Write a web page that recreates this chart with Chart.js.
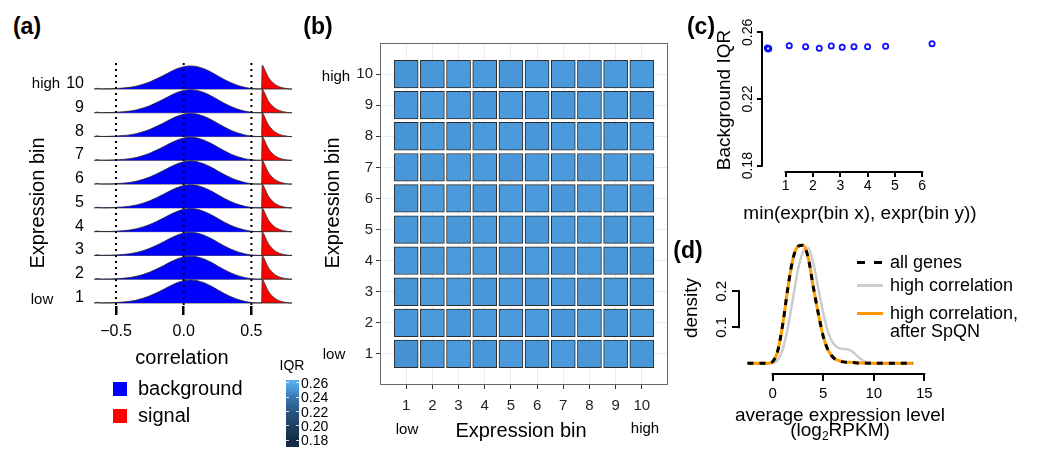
<!DOCTYPE html>
<html>
<head>
<meta charset="utf-8">
<script src="https://cdn.jsdelivr.net/npm/chart.js@4/dist/chart.umd.min.js"></script>
<style>
body { margin: 0; background: #fff; font-family: 'Liberation Sans', Arial, Helvetica, sans-serif; color: #000; }
#page { position: relative; width: 1055px; height: 449px; overflow: hidden; }
.box { position: absolute; }
.t { position: absolute; white-space: nowrap; line-height: 1; transform: translate(-50%, -50%); }
.tl { position: absolute; white-space: nowrap; line-height: 1; transform: translate(0, -50%); }
.rot { transform: translate(-50%, -50%) rotate(-90deg); }
.pl { font-weight: bold; font-size: 23px; }
.sq { position: absolute; width: 14px; height: 14px; }
.smp { position: absolute; height: 3px; }
</style>
</head>
<body>
<div id="page">
  <div class="box" style="left:0;top:40px"><canvas id="ridges" width="300" height="320"></canvas></div>
  <div class="box" style="left:300px;top:30px"><canvas id="heat" width="380" height="420"></canvas></div>
  <div class="box" style="left:690px;top:0"><canvas id="iqr" width="365" height="230"></canvas></div>
  <div class="box" style="left:660px;top:230px"><canvas id="dens" width="395" height="219"></canvas></div>

  <!-- panel a text -->
  <div class="t pl" style="left:27px;top:26px">(a)</div>
  <div class="t rot" style="left:37px;top:203px;font-size:20px">Expression bin</div>
  <div class="t" style="left:46px;top:82px;font-size:15px">high</div>
  <div class="t" style="left:42px;top:298px;font-size:15px">low</div>
  <div class="t" style="left:182px;top:357px;font-size:20px">correlation</div>
  <div class="sq" style="left:113px;top:382px;background:#0000ff"></div>
  <div class="tl" style="left:138px;top:388px;font-size:20px">background</div>
  <div class="sq" style="left:113px;top:409px;background:#ff0000"></div>
  <div class="tl" style="left:138px;top:415px;font-size:20px">signal</div>

  <!-- panel b text -->
  <div class="t pl" style="left:318px;top:26px">(b)</div>
  <div class="t rot" style="left:332px;top:203px;font-size:20px">Expression bin</div>
  <div class="t" style="left:336px;top:75px;font-size:15px">high</div>
  <div class="t" style="left:334px;top:353px;font-size:15px">low</div>
  <div class="t" style="left:407px;top:428px;font-size:15px">low</div>
  <div class="t" style="left:521px;top:430px;font-size:20px">Expression bin</div>
  <div class="t" style="left:645px;top:427px;font-size:15px">high</div>
  <div class="t" style="left:292px;top:365px;font-size:14px">IQR</div>
  <div id="cbar" class="box" style="left:286px;top:380px;width:13px;height:67px"></div>

  <!-- panel c text -->
  <div class="t pl" style="left:701px;top:26px">(c)</div>
  <div class="t rot" style="left:723px;top:100px;font-size:19px">Background IQR</div>
  <div class="t" style="left:860px;top:212px;font-size:19px">min(expr(bin x), expr(bin y))</div>

  <!-- panel d text -->
  <div class="t pl" style="left:688px;top:250px">(d)</div>
  <div class="t rot" style="left:690px;top:308px;font-size:19px">density</div>
  <div class="t" style="left:840px;top:414px;font-size:19px">average expression level</div>
  <div class="t" style="left:840px;top:431px;font-size:19px">(log<sub style="font-size:12px">2</sub>RPKM)</div>
  <div class="smp" style="left:857px;top:261px;width:26px;background:repeating-linear-gradient(90deg,#000 0 8px,transparent 8px 17px)"></div>
  <div class="tl" style="left:890px;top:262px;font-size:18px">all genes</div>
  <div class="smp" style="left:857px;top:284px;width:26px;background:#cccccc"></div>
  <div class="tl" style="left:890px;top:285px;font-size:18px">high correlation</div>
  <div class="smp" style="left:857px;top:312px;width:26px;background:#ff9a00"></div>
  <div class="tl" style="left:890px;top:313px;font-size:18px">high correlation,</div>
  <div class="tl" style="left:890px;top:331px;font-size:18px">after SpQN</div>
</div>

<script>
// ---- data ----

// (a) correlation densities, one shape per component (height in row units)
const bins = [1, 2, 3, 4, 5, 6, 7, 8, 9, 10];
const corrX = [-0.66, -0.6, -0.55, -0.5, -0.45, -0.4, -0.35, -0.3, -0.25, -0.2, -0.15, -0.1, -0.05,
               0, 0.05, 0.1, 0.15, 0.2, 0.25, 0.3, 0.35, 0.4, 0.45, 0.5, 0.55, 0.6, 0.7, 0.8];
const backgroundDens = [0, 0.005, 0.01, 0.02, 0.04, 0.07, 0.12, 0.2, 0.3, 0.43, 0.57, 0.72, 0.85,
                        0.94, 0.97, 0.94, 0.85, 0.72, 0.56, 0.4, 0.26, 0.15, 0.07, 0.02, 0.005, 0, 0, 0];
const signalX = [-0.66, -0.64, -0.62, -0.6, 0.575, 0.58, 0.6, 0.62, 0.64, 0.66, 0.68, 0.7, 0.72, 0.74, 0.76, 0.78, 0.8];
const signalDens = [0, 0.03, 0.01, 0, 0, 1.0, 0.8, 0.55, 0.38, 0.26, 0.17, 0.11, 0.07, 0.04, 0.02, 0.005, 0];
const cutoffs = [-0.5, 0, 0.5];
const corrTicks = [-0.5, 0, 0.5];

// (b) IQR per pair of expression bins (rows = y bin 1..10, cols = x bin 1..10)
const iqrMatrix = [
  [0.249, 0.251, 0.252, 0.251, 0.252, 0.251, 0.252, 0.251, 0.252, 0.251],
  [0.251, 0.252, 0.251, 0.252, 0.252, 0.252, 0.251, 0.252, 0.251, 0.252],
  [0.250, 0.252, 0.252, 0.251, 0.252, 0.251, 0.252, 0.251, 0.252, 0.251],
  [0.251, 0.251, 0.252, 0.252, 0.251, 0.252, 0.251, 0.252, 0.251, 0.250],
  [0.251, 0.252, 0.251, 0.252, 0.252, 0.251, 0.252, 0.252, 0.251, 0.252],
  [0.250, 0.252, 0.252, 0.251, 0.252, 0.252, 0.251, 0.252, 0.252, 0.251],
  [0.251, 0.251, 0.252, 0.252, 0.251, 0.252, 0.252, 0.251, 0.252, 0.252],
  [0.250, 0.252, 0.251, 0.252, 0.252, 0.251, 0.252, 0.252, 0.251, 0.252],
  [0.251, 0.252, 0.252, 0.251, 0.252, 0.252, 0.251, 0.252, 0.252, 0.251],
  [0.250, 0.251, 0.252, 0.252, 0.251, 0.252, 0.252, 0.251, 0.252, 0.252]
];
const iqrTicks = [0.18, 0.20, 0.22, 0.24, 0.26];

// (c) background IQR vs min expression
const minExpr = [0.33, 0.36, 0.38, 1.13, 1.73, 2.23, 2.67, 3.07, 3.5, 4.0, 4.66, 6.36];
const bgIQR = [0.2506, 0.2500, 0.2503, 0.2520, 0.2514, 0.2504, 0.2518, 0.2510, 0.2514, 0.2514, 0.2516, 0.2532];
const cTicksX = [1, 2, 3, 4, 5, 6];
const cTicksY = [0.18, 0.22, 0.26];

// (d) expression densities
const exprX = [-2.5, -1, -0.5, 0, 0.5, 1, 1.5, 2, 2.5, 3, 3.5, 4, 4.5, 5, 5.5, 6, 6.5, 7, 7.5, 8, 8.5, 9, 9.5, 10, 11, 12, 13, 13.9];
const allGenes = [0, 0, 0, 0.005, 0.035, 0.11, 0.21, 0.29, 0.325, 0.328, 0.295, 0.215, 0.14, 0.075, 0.035, 0.016, 0.008, 0.004, 0.003, 0.002, 0.001, 0.001, 0, 0, 0, 0, 0, 0];
const highCorr = [0, 0, 0, 0, 0.01, 0.04, 0.1, 0.18, 0.26, 0.31, 0.32, 0.28, 0.21, 0.14, 0.085, 0.055, 0.043, 0.04, 0.038, 0.03, 0.017, 0.007, 0.002, 0, 0, 0, 0, 0];
const highCorrSpqn = [0, 0, 0, 0.005, 0.035, 0.11, 0.21, 0.29, 0.325, 0.328, 0.295, 0.215, 0.14, 0.075, 0.035, 0.016, 0.008, 0.004, 0.003, 0.002, 0.001, 0.001, 0, 0, 0, 0, 0, 0];
const dTicksX = [0, 5, 10, 15];
const dTicksY = [0.1, 0.2];

// ---- helpers ----
Chart.defaults.font.family = "'Liberation Sans', Arial, Helvetica, sans-serif";
Chart.defaults.color = '#000';
Chart.defaults.plugins.legend.display = false;
Chart.defaults.plugins.tooltip.enabled = false;

// blue gradient for IQR (dark navy -> light blue)
const iqrStops = [[0.18, [19, 43, 67]], [0.22, [40, 86, 128]], [0.24, [58, 120, 178]], [0.26, [86, 177, 247]]];
function iqrColor(v) {
    v = Math.max(0.18, Math.min(0.26, v));
    let i = 0;
    while (i < iqrStops.length - 2 && v > iqrStops[i + 1][0]) i++;
    let a = iqrStops[i], b = iqrStops[i + 1];
    let u = (v - a[0]) / (b[0] - a[0]);
    let c = a[1].map((x, k) => Math.round(x + u * (b[1][k] - x)));
    return 'rgb(' + c.join(',') + ')';
}

function fixedSize(w, h) {
    return (s) => {
        if (w !== undefined) s.width = w;
        if (h !== undefined) s.height = h;
    };
}

// axis segments drawn only across the tick range (base R style) + rotated y labels
const rangeAxes = {
    id: 'rangeAxes',
    afterDraw(chart, args, opts) {
        const ctx = chart.ctx, a = chart.chartArea;
        ctx.save();
        ctx.strokeStyle = '#000';
        ctx.lineWidth = 2;
        if (opts.x) {
            const sx = chart.scales.x;
            ctx.beginPath();
            ctx.moveTo(sx.getPixelForValue(opts.x[0]) - 1, a.bottom);
            ctx.lineTo(sx.getPixelForValue(opts.x[1]) + 1, a.bottom);
            ctx.stroke();
        }
        if (opts.y) {
            const sy = chart.scales.y;
            ctx.beginPath();
            ctx.moveTo(a.left, sy.getPixelForValue(opts.y[0]) + 1);
            ctx.lineTo(a.left, sy.getPixelForValue(opts.y[1]) - 1);
            ctx.stroke();
        }
        if (opts.yLabels) {
            const sy = chart.scales.y;
            ctx.fillStyle = '#000';
            ctx.font = opts.yLabels.size + "px 'Liberation Sans', Arial, sans-serif";
            ctx.textAlign = 'center';
            ctx.textBaseline = 'middle';
            sy.ticks.forEach((t) => {
                ctx.save();
                ctx.translate(a.left - opts.yLabels.offset, sy.getPixelForValue(t.value));
                ctx.rotate(-Math.PI / 2);
                ctx.fillText(opts.yLabels.fmt(t.value), 0, 0);
                ctx.restore();
            });
        }
        ctx.restore();
    }
};

const panelFrame = {
    id: 'panelFrame',
    afterDatasetsDraw(chart) {
        const ctx = chart.ctx, a = chart.chartArea;
        ctx.save();
        ctx.strokeStyle = '#666';
        ctx.lineWidth = 1;
        ctx.strokeRect(a.left + 0.5, a.top + 0.5, a.right - a.left - 1, a.bottom - a.top - 1);
        ctx.restore();
    }
};

// ---- (a) ridgeline densities ----
let ridgeSets = [];
bins.forEach((b) => {
    ridgeSets.push({
        data: corrX.map((x, i) => ({ x: x, y: b + backgroundDens[i] })),
        fill: { value: b },
        backgroundColor: '#0000ff',
        borderColor: '#222',
        borderWidth: 0.8,
        pointRadius: 0,
        cubicInterpolationMode: 'monotone',
        order: b
    });
    ridgeSets.push({
        data: signalX.map((x, i) => ({ x: x, y: b + signalDens[i] })),
        fill: { value: b },
        backgroundColor: '#ff0000',
        borderColor: '#333',
        borderWidth: 0.8,
        pointRadius: 0,
        cubicInterpolationMode: 'monotone',
        order: b
    });
});
cutoffs.forEach((c) => {
    ridgeSets.push({
        data: [{ x: c, y: 0.92 }, { x: c, y: 11.09 }],
        borderColor: '#000',
        borderWidth: 2,
        borderDash: [2, 4],
        pointRadius: 0,
        fill: false,
        order: 0
    });
});

new Chart(document.getElementById('ridges'), {
    type: 'line',
    data: { datasets: ridgeSets },
    options: {
        responsive: false,
        animation: false,
        devicePixelRatio: 1,
        layout: { padding: { top: 20, right: 8, left: 0, bottom: 0 } },
        scales: {
            x: {
                type: 'linear',
                min: -0.67,
                max: 0.8,
                afterBuildTicks: (s) => { s.ticks = corrTicks.map((v) => ({ value: v })); },
                afterFit: fixedSize(undefined, 54),
                border: { display: false },
                grid: { drawOnChartArea: false, drawTicks: true, tickLength: 9, color: '#000', lineWidth: 2.5 },
                ticks: {
                    font: { size: 16 },
                    padding: 7,
                    maxRotation: 0,
                    callback: (v) => (v < 0 ? '\u2212' : '') + Math.abs(v).toFixed(1)
                }
            },
            y: {
                type: 'linear',
                min: 0.874,
                max: 11.22,
                afterBuildTicks: (s) => { s.ticks = bins.map((b) => ({ value: b + 0.23 })); },
                afterFit: fixedSize(93, undefined),
                border: { display: false },
                grid: { display: false },
                ticks: { font: { size: 16 }, padding: 1, callback: (v, i) => String(bins[i]) }
            }
        }
    }
});

// ---- (b) heatmap of IQR ----
let tileSets = bins.map((r) => ({
    type: 'bar',
    data: bins.map((c) => ({ x: c, y: [r - 0.445, r + 0.445] })),
    backgroundColor: bins.map((c) => iqrColor(iqrMatrix[r - 1][c - 1])),
    borderColor: '#2b2b2b',
    borderWidth: 1,
    borderSkipped: false,
    grouped: false,
    barThickness: 24
}));

new Chart(document.getElementById('heat'), {
    type: 'bar',
    data: { datasets: tileSets },
    options: {
        responsive: false,
        animation: false,
        devicePixelRatio: 1,
        layout: { padding: { top: 13, right: 12, left: 0, bottom: 0 } },
        scales: {
            x: {
                type: 'linear',
                min: 0,
                max: 11,
                offset: false,
                afterBuildTicks: (s) => { s.ticks = bins.map((v) => ({ value: v })); },
                afterFit: fixedSize(undefined, 65),
                border: { display: false },
                grid: { offset: false, color: '#ebebeb', tickColor: '#333', tickLength: 4, lineWidth: 1 },
                ticks: { font: { size: 15 }, color: '#222', padding: 8, maxRotation: 0 }
            },
            y: {
                type: 'linear',
                min: 0,
                max: 11,
                afterBuildTicks: (s) => { s.ticks = bins.map((v) => ({ value: v })); },
                afterFit: fixedSize(80, undefined),
                border: { display: false },
                grid: { color: '#ebebeb', tickColor: '#333', tickLength: 4, lineWidth: 1 },
                ticks: { font: { size: 15 }, color: '#222', padding: 3 }
            }
        }
    },
    plugins: [panelFrame]
});

// colour bar legend for IQR
(function () {
    const bar = document.getElementById('cbar');
    const top = 0.2642, bottom = 0.1702, h = 67;
    let stops = [];
    for (let k = 0; k <= 8; k++) {
        const v = top - (top - bottom) * k / 8;
        stops.push(iqrColor(v) + ' ' + (k * 12.5) + '%');
    }
    bar.style.background = 'linear-gradient(180deg,' + stops.join(',') + ')';
    const page = document.getElementById('page');
    iqrTicks.forEach((v) => {
        const y = (top - v) / (top - bottom) * h;
        ['0px', '10px'].forEach((lx) => {
            const m = document.createElement('div');
            m.style.cssText = 'position:absolute;left:' + lx + ';top:' + (y - 0.5) + 'px;width:3px;height:1px;background:rgba(255,255,255,0.8)';
            bar.appendChild(m);
        });
        const lab = document.createElement('div');
        lab.className = 'tl';
        lab.style.cssText = 'left:301px;top:' + (380 + y) + 'px;font-size:14px';
        lab.textContent = v.toFixed(2);
        page.appendChild(lab);
    });
})();

// ---- (c) background IQR scatter ----
new Chart(document.getElementById('iqr'), {
    type: 'scatter',
    data: {
        datasets: [{
            data: minExpr.map((x, i) => ({ x: x, y: bgIQR[i] })),
            pointStyle: 'circle',
            pointRadius: 2.6,
            pointBorderWidth: 1.8,
            borderColor: '#1010ff',
            backgroundColor: 'rgba(0,0,0,0)'
        }]
    },
    options: {
        responsive: false,
        animation: false,
        devicePixelRatio: 1,
        layout: { padding: { top: 28, right: 105, left: 0, bottom: 0 } },
        scales: {
            x: {
                type: 'linear',
                min: 0.132,
                max: 7.018,
                afterBuildTicks: (s) => { s.ticks = cTicksX.map((v) => ({ value: v })); },
                afterFit: fixedSize(undefined, 58),
                border: { display: false },
                grid: { drawOnChartArea: false, drawTicks: true, tickLength: 5, color: '#000', lineWidth: 2 },
                ticks: { font: { size: 14 }, padding: 1, maxRotation: 0 }
            },
            y: {
                type: 'linear',
                min: 0.17622,
                max: 0.26258,
                afterBuildTicks: (s) => { s.ticks = cTicksY.map((v) => ({ value: v })); },
                afterFit: fixedSize(72, undefined),
                border: { display: false },
                grid: { drawOnChartArea: false, drawTicks: true, tickLength: 5, color: '#000', lineWidth: 2 },
                ticks: { display: false }
            }
        },
        plugins: {
            rangeAxes: { x: [1, 6], y: [0.18, 0.26], yLabels: { offset: 14, size: 14, fmt: (v) => v.toFixed(2) } }
        }
    },
    plugins: [rangeAxes]
});

// ---- (d) expression densities ----
new Chart(document.getElementById('dens'), {
    type: 'line',
    data: {
        datasets: [
            {
                data: exprX.map((x, i) => ({ x: x, y: allGenes[i] })),
                borderColor: '#000',
                borderWidth: 3,
                borderDash: [6, 6],
                pointRadius: 0,
                cubicInterpolationMode: 'monotone',
                order: 1
            },
            {
                data: exprX.map((x, i) => ({ x: x, y: highCorrSpqn[i] })),
                borderColor: '#ff9a00',
                borderWidth: 3,
                pointRadius: 0,
                cubicInterpolationMode: 'monotone',
                order: 2
            },
            {
                data: exprX.map((x, i) => ({ x: x, y: highCorr[i] })),
                borderColor: '#cccccc',
                borderWidth: 2.5,
                pointRadius: 0,
                cubicInterpolationMode: 'monotone',
                order: 3
            }
        ]
    },
    options: {
        responsive: false,
        animation: false,
        devicePixelRatio: 1,
        layout: { padding: { top: 10, right: 125, left: 0, bottom: 0 } },
        scales: {
            x: {
                type: 'linear',
                min: -3.34,
                max: 15.57,
                afterBuildTicks: (s) => { s.ticks = dTicksX.map((v) => ({ value: v })); },
                afterFit: fixedSize(undefined, 75),
                border: { display: false },
                grid: { drawOnChartArea: false, drawTicks: true, tickLength: 7, color: '#000', lineWidth: 2 },
                ticks: { font: { size: 15 }, padding: 4, maxRotation: 0 }
            },
            y: {
                type: 'linear',
                min: -0.0297,
                max: 0.3425,
                afterBuildTicks: (s) => { s.ticks = dTicksY.map((v) => ({ value: v })); },
                afterFit: fixedSize(79, undefined),
                border: { display: false },
                grid: { drawOnChartArea: false, drawTicks: true, tickLength: 7, color: '#000', lineWidth: 2 },
                ticks: { display: false }
            }
        },
        plugins: {
            rangeAxes: { x: [0, 15], y: [0.1, 0.2], yLabels: { offset: 17, size: 15, fmt: (v) => v.toFixed(1) } }
        }
    },
    plugins: [rangeAxes]
});
</script>
</body>
</html>
